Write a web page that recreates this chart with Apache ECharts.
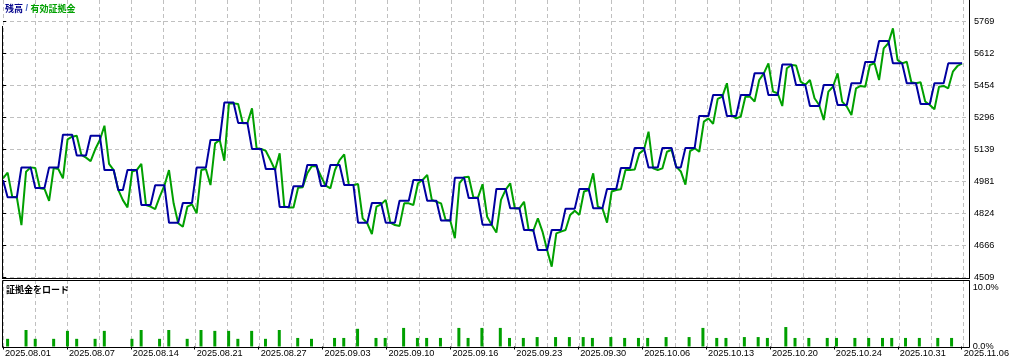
<!DOCTYPE html>
<html><head><meta charset="utf-8">
<script src="https://cdn.jsdelivr.net/npm/echarts@6/dist/echarts.min.js"></script>
<style>html,body{margin:0;padding:0;background:#fff}#c{width:1012px;height:363px}</style>
</head><body><div id="c"></div>
<script>
// ---------------- data ----------------
const dateLabels = ['2025.08.01','2025.08.07','2025.08.14','2025.08.21','2025.08.27','2025.09.03','2025.09.10','2025.09.16','2025.09.23','2025.09.30','2025.10.06','2025.10.13','2025.10.20','2025.10.24','2025.10.31','2025.11.06'];
const yTickLabels = ['4509','4666','4824','4981','5139','5296','5454','5612','5769'];
const loadTickLabels = ['0.0%','10.0%'];
const titleBalance = '残高';
const titleEquity = '有効証拠金';
const titleLoad = '証拠金をロード';

const balance = [
4988,
4903,4903,4903, 5050,5050,5050, 4949,4949,4949, 5050,5050,5050, 5211,5211,5211,
5108,5108,5108, 5206,5206,5206, 5037,5037,5037, 4939,4939, 5037,5037,5037,
4865,4865,4865, 4962,4962,4962, 4778,4778,4778, 4875,4875,4875, 5049,5049,5049,
5185,5185,5185, 5369,5369,5369, 5269,5269,5269, 5141,5141,5141, 5042,5042,5042,
4855,4855,4855, 4957,4957,4957, 5062,5062,5062, 4958,4958, 5062,5062,5062,
4963,4963,4963, 4778,4778,4778, 4875,4875,4875, 4778,4778,4778, 4886,4886,4886,
4988,4988,4988, 4886,4886,4886, 4788,4788,4788, 4999,4999,4999, 4899,4899,4899,
4768,4768,4768, 4944,4944,4944, 4849,4849,4849, 4742,4742,4742, 4643,4643,4643,
4742,4742,4742, 4847,4847,4847, 4944,4944,4944, 4849,4849,4849, 4944,4944,4944,
5047,5047,5047, 5145,5145,5145, 5049,5049,5049, 5145,5145,5145, 5050,5050,
5145,5145,5145, 5303,5303,5303, 5406,5406,5406, 5303,5303,5303, 5406,5406,5406,
5513,5513,5513, 5406,5406,5406, 5556,5556,5556, 5455,5455,5455, 5352,5352,5352,
5456,5456,5456, 5357,5357,5357, 5464,5464,5464, 5569,5569,5569, 5672,5672,5672,
5562,5562,5562, 5464,5464,5464, 5362,5362,5362, 5464,5464,5464, 5562,5562,5562,5562
];
const equity = [
4996,5024,4906,4903,4766,5029,5050,5047,4947,4944,
4885,5047,5042,4996,5188,5201,5206,5111,5098,5081,
5139,5185,5255,5067,5037,4939,4889,4853,5029,5037,
5067,4865,4857,4845,4906,4960,5037,4873,4775,4758,
4857,4868,4824,5037,5042,4963,5168,5185,5083,5365,
5365,5362,5267,5267,5341,5144,5141,5131,5086,5037,
5119,4857,4853,4853,4950,4952,5021,5057,5054,5004,
4960,4947,5037,5086,5114,4963,4963,4968,4799,4775,
4722,4857,4868,4890,4778,4766,4762,4873,4873,4865,
4972,4988,5013,4890,4881,4873,4791,4788,4701,4972,
5001,5004,4903,4901,4967,4807,4766,4729,4890,4939,
4972,4848,4848,4881,4742,4738,4799,4734,4643,4561,
4725,4734,4742,4816,4837,4816,4931,4939,5021,4857,
4848,4778,4931,4939,4942,5037,5037,5040,5119,5136,
5226,5045,5037,5045,5127,5136,5054,5030,4965,5130,
5144,5127,5275,5291,5264,5387,5398,5464,5308,5291,
5300,5398,5398,5374,5480,5513,5562,5423,5415,5352,
5538,5554,5551,5472,5456,5480,5390,5357,5283,5423,
5447,5513,5374,5349,5308,5439,5451,5447,5554,5562,
5480,5636,5661,5734,5579,5562,5570,5469,5464,5469,
5374,5357,5336,5447,5451,5439,5521,5549,5562
];
const loadIdx = [1,5,7,11,14,16,20,22,28,30,34,36,40,43,46,49,51,54,57,60,64,67,72,
74,77,81,83,87,90,92,95,99,101,104,108,110,113,116,120,123,126,128,132,135,138,140,144,
149,152,155,157,161,164,166,170,172,175,179,181,185,188,191,193,196,199,203,206];
const loadPct = [1.3,2.8,1.3,1.3,2.65,1.3,1.3,2.65,1.3,2.8,1.3,2.8,1.3,2.8,2.65,2.65,1.3,2.65,1.3,2.8,1.45,1.3,1.45,
1.45,3.0,1.45,1.45,3.15,1.45,1.45,1.45,3.15,1.45,3.15,3.15,1.45,1.45,1.6,1.6,1.6,1.6,1.45,1.6,1.45,1.45,1.45,1.6,
1.6,3.15,1.45,1.45,1.6,1.6,1.45,3.3,1.45,1.45,1.45,1.45,1.45,1.45,1.45,1.45,1.45,1.45,1.45,1.45];

// ---------------- layout ----------------
const Y_MIN = 4509, Y_MAX = 5769, Y_STEP = 157.5;
const X_MAX = 209.5;
const GRID_L = 3, GRID_W = 966;
const pxPerUnit = GRID_W / X_MAX;
const vStep = 32 / pxPerUnit;       // vertical grid every 32 px
const labelStep = 2 * vStep;        // date label every 64 px
const FONT = '"Liberation Sans", Arial, sans-serif';
const CJK = '"Noto Sans CJK JP", sans-serif';
const BLUE = '#0000a0', GREEN = '#00a000';
const dash = {color:'#c0c0c0', type:[4,3], width:1};

const chart = echarts.init(document.getElementById('c'), null, {renderer:'canvas'});
chart.setOption({
  animation:false,
  backgroundColor:'#ffffff',
  title:[
    {left:5, top:4, padding:0, text:'{a|'+titleBalance+'}{s| / }{b|'+titleEquity+'}',
     textStyle:{fontSize:9, rich:{
       a:{color:'#00008b', fontFamily:CJK, fontSize:9, fontWeight:'bold'},
       s:{color:'#4060c0', fontFamily:FONT, fontSize:9},
       b:{color:GREEN, fontFamily:CJK, fontSize:9, fontWeight:'bold'}}}},
    {left:6, top:285, padding:0, text:titleLoad,
     textStyle:{color:'#000', fontFamily:CJK, fontSize:9, fontWeight:'bold'}}
  ],
  grid:[
    {left:GRID_L, width:GRID_W, top:21.3, height:256},
    {left:GRID_L, width:GRID_W, top:0, height:347.5},
    {left:GRID_L, width:GRID_W, top:287.5, height:59}
  ],
  xAxis:[
    {gridIndex:0, type:'value', min:0, max:X_MAX, show:false},
    {gridIndex:1, type:'value', min:0, max:X_MAX, interval:vStep,
     axisLine:{show:false}, axisTick:{show:false}, axisLabel:{show:false},
     splitLine:{show:true, lineStyle:dash}},
    {gridIndex:2, type:'value', min:0, max:X_MAX, interval:labelStep, position:'bottom',
     axisLine:{show:false}, splitLine:{show:false},
     axisTick:{show:true, length:3, lineStyle:{color:'#000'}},
     axisLabel:{show:true, margin:2, align:'left', padding:[0,0,0,2], color:'#000',
       fontFamily:FONT, fontSize:9.2, showMaxLabel:false,
       formatter:function(v){const k=v/labelStep, r=Math.round(k);
         return (Math.abs(k-r)<0.01 && r<dateLabels.length) ? dateLabels[r] : '';}}}
  ],
  yAxis:[
    {gridIndex:0, type:'value', position:'right', min:Y_MIN, max:Y_MAX, interval:Y_STEP,
     axisLine:{show:false}, axisTick:{show:true, length:3, lineStyle:{color:'#000'}},
     splitLine:{show:true, lineStyle:dash},
     axisLabel:{margin:5, color:'#000', fontFamily:FONT, fontSize:9.2,
       formatter:function(v){return yTickLabels[Math.round((v-Y_MIN)/Y_STEP)]||'';}}},
    {gridIndex:1, type:'value', min:0, max:1, show:false},
    {gridIndex:2, type:'value', position:'right', min:0, max:10, interval:10,
     axisLine:{show:false}, axisTick:{show:false}, splitLine:{show:false},
     axisLabel:{margin:5, color:'#000', fontFamily:FONT, fontSize:9.2,
       formatter:function(v){return loadTickLabels[Math.round(v/10)];}}}
  ],
  series:[
    {type:'line', xAxisIndex:0, yAxisIndex:0, z:3, showSymbol:false, symbol:'none',
     data:equity.map((v,i)=>[i,v]), lineStyle:{color:GREEN, width:2}},
    {type:'line', xAxisIndex:0, yAxisIndex:0, z:4, showSymbol:false, symbol:'none',
     data:balance.map((v,i)=>[i,v]), lineStyle:{color:BLUE, width:2}},
    {type:'bar', xAxisIndex:2, yAxisIndex:2, barWidth:3,
     data:loadIdx.map((x,k)=>[x,loadPct[k]]), itemStyle:{color:GREEN}}
  ],
  graphic:[
    {type:'line', z:100, shape:{x1:2.5,y1:26,x2:2.5,y2:278.5}, style:{stroke:'#000',lineWidth:1}},
    {type:'line', z:100, shape:{x1:2,y1:278.5,x2:970,y2:278.5}, style:{stroke:'#000',lineWidth:1}},
    {type:'line', z:100, shape:{x1:969.5,y1:0,x2:969.5,y2:279}, style:{stroke:'#000',lineWidth:1}},
    {type:'rect', z:100, shape:{x:2.5,y:280.5,width:967,height:67}, style:{stroke:'#000',fill:null,lineWidth:1}}
  ]
});
</script>
</body></html>
